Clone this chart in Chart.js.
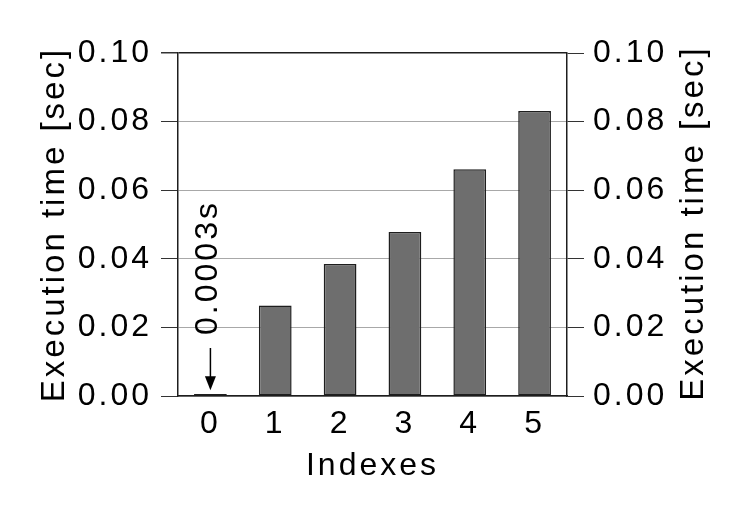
<!DOCTYPE html>
<html><head><meta charset="utf-8">
<script src="https://cdn.jsdelivr.net/npm/chart.js@4.4.0/dist/chart.umd.min.js"></script>
<style>html,body{margin:0;padding:0;background:#fff;}canvas{display:block;}</style>
</head><body>
<canvas id="c" width="739" height="513"></canvas>
<script>
const categories = ['0', '1', '2', '3', '4', '5'];
const executionTimes = [0.0003, 0.0264, 0.0385, 0.0478, 0.0661, 0.0831];
const yTickValues = [0, 0.02, 0.04, 0.06, 0.08, 0.10];
const xAxisTitle = 'Indexes';
const yAxisTitle = 'Execution time [sec]';
const annotationText = '0.0003s';
const annotationIndex = 0;

const FONT = 'Liberation Sans';
const SPACING = '3px';

const spacingPlugin = {
  id: 'spacing',
  beforeUpdate(c) { c.ctx.letterSpacing = SPACING; },
  beforeLayout(c) { c.ctx.letterSpacing = SPACING; },
  beforeDraw(c) { c.ctx.letterSpacing = SPACING; }
};

const annotationPlugin = {
  id: 'annot',
  afterDraw(c) {
    const ctx = c.ctx, xs = c.scales.x, ys = c.scales.y, y2 = c.scales.y2;
    const x = xs.getPixelForValue(annotationIndex);
    const yTop = ys.getPixelForValue(0.014);
    const yTip = ys.getPixelForValue(0.0017);
    ctx.save();
    ctx.strokeStyle = '#000';
    ctx.fillStyle = '#000';
    ctx.lineWidth = 1.5;
    ctx.beginPath();
    ctx.moveTo(x, yTop);
    ctx.lineTo(x, yTip - 10);
    ctx.stroke();
    ctx.beginPath();
    ctx.moveTo(x, yTip);
    ctx.lineTo(x - 5.5, yTip - 14);
    ctx.lineTo(x + 5.5, yTip - 14);
    ctx.closePath();
    ctx.fill();
    ctx.letterSpacing = SPACING;
    ctx.save();
    ctx.translate(x - 2, ys.getPixelForValue(0.0178));
    ctx.rotate(-Math.PI / 2);
    ctx.font = '32px "' + FONT + '"';
    ctx.textAlign = 'left';
    ctx.textBaseline = 'middle';
    ctx.fillText(annotationText, 0, 0);
    ctx.restore();
    // right axis title, reading bottom-to-top like the left one
    const ca = c.chartArea;
    ctx.save();
    ctx.translate(y2.right - 19.8, (ca.top + ca.bottom) / 2);
    ctx.rotate(-Math.PI / 2);
    ctx.font = '33px "' + FONT + '"';
    ctx.textAlign = 'center';
    ctx.textBaseline = 'middle';
    ctx.fillText(yAxisTitle, 1.5, 0);
    ctx.restore();
    ctx.restore();
  }
};

const tickFmt = v => Number(v).toFixed(2);
const setTicks = s => { s.ticks = yTickValues.map(v => ({ value: v })); };

new Chart(document.getElementById('c'), {
  type: 'bar',
  data: {
    labels: categories,
    datasets: [{
      data: executionTimes,
      backgroundColor: '#6e6e6e',
      borderColor: '#1e1e1e',
      borderWidth: 1.5,
      borderSkipped: false,
      minBarLength: 2,
      barPercentage: 0.505,
      categoryPercentage: 1.0,
      yAxisID: 'y'
    }]
  },
  options: {
    responsive: false,
    animation: false,
    devicePixelRatio: 1,
    layout: { padding: { left: 35, right: 25, top: 53, bottom: 28 } },
    plugins: { legend: { display: false }, tooltip: { enabled: false } },
    scales: {
      x: {
        offset: true,
        grid: { display: false, drawTicks: false },
        border: { display: true, color: '#1e1e1e', width: 1.5 },
        ticks: { color: '#000', padding: 9, font: { family: FONT, size: 32 } },
        title: { display: true, text: xAxisTitle, color: '#000', padding: 0, font: { family: FONT, size: 32 } },
        afterFit(s) { s.height = 89; }
      },
      y: {
        position: 'left',
        min: 0, max: 0.1,
        afterBuildTicks: setTicks,
        grid: {
          color: ctx => (ctx.tick && Math.abs(ctx.tick.value - 0.1) < 1e-9) ? '#1e1e1e' : '#a8a8a8',
          lineWidth: ctx => (ctx.tick && Math.abs(ctx.tick.value - 0.1) < 1e-9) ? 1.5 : 1,
          tickColor: '#333',
          tickLength: 17,
          drawTicks: true
        },
        border: { display: true, color: '#1e1e1e', width: 1.5 },
        ticks: { color: '#000', padding: 9, callback: tickFmt, font: { family: FONT, size: 32 } },
        title: { display: true, text: yAxisTitle, color: '#000', padding: 0, font: { family: FONT, size: 33 } },
        afterFit(s) { s.width = 143; }
      },
      y2: {
        position: 'right',
        min: 0, max: 0.1,
        afterBuildTicks: setTicks,
        grid: { drawOnChartArea: false, tickColor: '#333', tickLength: 17, drawTicks: true },
        border: { display: true, color: '#1e1e1e', width: 1.5 },
        ticks: { color: '#000', padding: 9, callback: tickFmt, font: { family: FONT, size: 32 } },
        title: { display: false },
        afterFit(s) { s.width = 147; }
      }
    }
  },
  plugins: [spacingPlugin, annotationPlugin]
});
</script>
</body></html>
